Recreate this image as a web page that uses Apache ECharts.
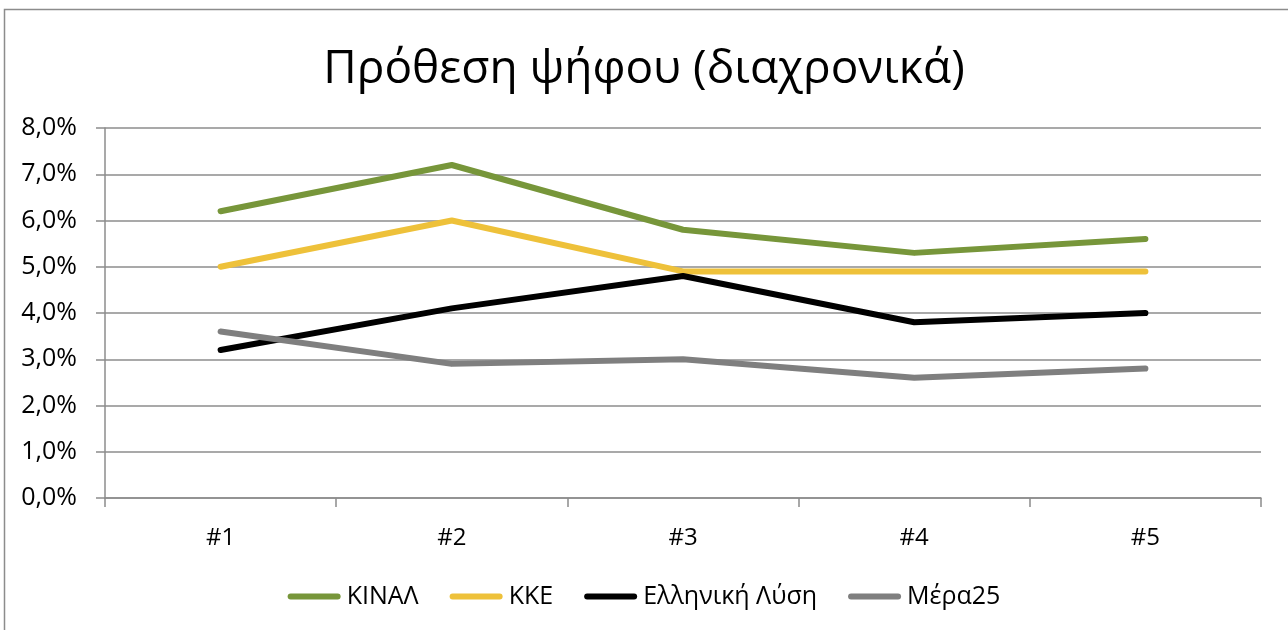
<!DOCTYPE html>
<html>
<head>
<meta charset="utf-8">
<script src="https://cdn.jsdelivr.net/npm/echarts@6/dist/echarts.min.js"></script>
<style>
html, body { margin: 0; padding: 0; background: #fff; }
#chart { width: 1288px; height: 630px; }
</style>
</head>
<body>
<div id="chart"></div>
<script>
var categories = ['#1', '#2', '#3', '#4', '#5'];
var kinal = [6.2, 7.2, 5.8, 5.3, 5.6];
var kke = [5.0, 6.0, 4.9, 4.9, 4.9];
var ellinikiLysi = [3.2, 4.1, 4.8, 3.8, 4.0];
var mera25 = [3.6, 2.9, 3.0, 2.6, 2.8];

var font = '"Open Sans", "Noto Sans", sans-serif';
var legendIcon = 'path://M3,0 L50,0 A3,3 0 0 1 50,6 L3,6 A3,3 0 0 1 3,0 Z';

function lineSeries(name, data, color) {
	return {
		name: name,
		type: 'line',
		data: data,
		symbol: 'none',
		smooth: false,
		color: color,
		lineStyle: { width: 6, color: color, cap: 'round', join: 'round' }
	};
}

var chart = echarts.init(document.getElementById('chart'));
chart.setOption({
	animation: false,
	title: {
		text: 'Πρόθεση ψήφου (διαχρονικά)',
		left: 'center',
		top: 42,
		textStyle: { fontFamily: font, fontSize: 46, fontWeight: 'normal', color: '#000' }
	},
	graphic: [{
		type: 'rect',
		shape: { x: 4.5, y: 9.5, width: 1300, height: 640 },
		style: { fill: 'none', stroke: '#8c8c8c', lineWidth: 1.5 },
		silent: true
	}],
	grid: { left: 105, right: 27, top: 128, bottom: 132 },
	legend: {
		bottom: 16,
		left: 'center',
		itemWidth: 53,
		itemHeight: 6,
		itemGap: 31,
		icon: legendIcon,
		textStyle: { fontFamily: font, fontSize: 25, color: '#000', padding: [0, 0, 0, 1] },
		data: ['ΚΙΝΑΛ', 'ΚΚΕ', 'Ελληνική Λύση', 'Μέρα25']
	},
	xAxis: {
		type: 'category',
		data: categories,
		boundaryGap: true,
		axisLine: { lineStyle: { color: '#8c8c8c', width: 1.5 } },
		axisTick: { show: true, length: 9, lineStyle: { color: '#8c8c8c', width: 1.5 } },
		axisLabel: { fontFamily: font, fontSize: 24, color: '#000', margin: 28 }
	},
	yAxis: {
		type: 'value',
		min: 0,
		max: 8,
		interval: 1,
		axisLine: { show: true, lineStyle: { color: '#8c8c8c', width: 1.5 } },
		axisTick: { show: true, length: 9, lineStyle: { color: '#8c8c8c', width: 1.5 } },
		splitLine: { lineStyle: { color: '#8c8c8c', width: 1.5 } },
		axisLabel: {
			fontFamily: font, fontSize: 25, color: '#000', margin: 28,
			formatter: function (v) { return v.toFixed(1).replace('.', ',') + '%'; }
		}
	},
	series: [
		lineSeries('ΚΙΝΑΛ', kinal, '#77963a'),
		lineSeries('ΚΚΕ', kke, '#eec13a'),
		lineSeries('Ελληνική Λύση', ellinikiLysi, '#000000'),
		lineSeries('Μέρα25', mera25, '#7f7f7f')
	]
});
</script>
</body>
</html>
